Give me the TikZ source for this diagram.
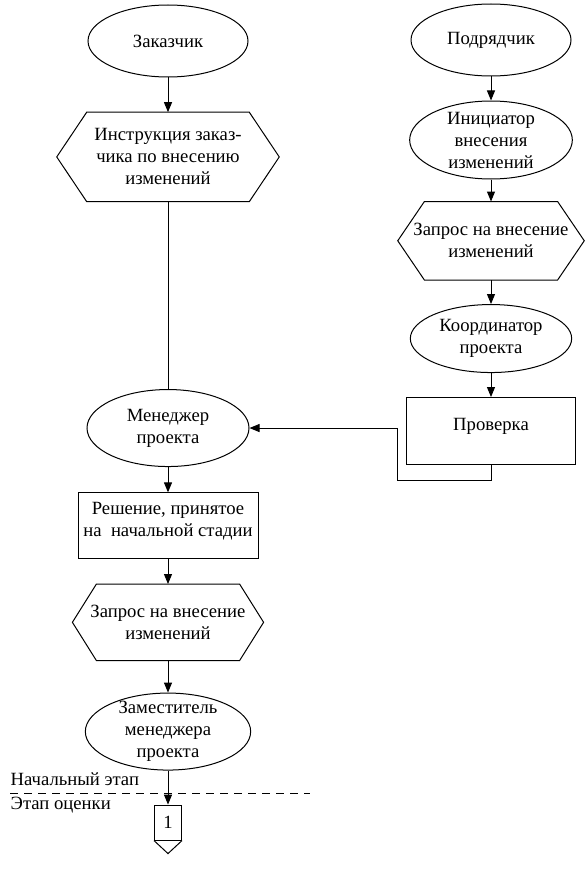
\documentclass[tikz,border=0pt]{standalone}
\usepackage{fontspec}
\setmainfont{Liberation Serif}
\usetikzlibrary{positioning,arrows.meta,shapes.geometric}

% hexagon outline round a plain node: #1 node name, #2 depth of the side points
\newcommand\hexframe[2]{%
  \draw[line width=0.75pt] (#1.west) -- ([xshift=#2]#1.north west) -- ([xshift=-#2]#1.north east)
    -- (#1.east) -- ([xshift=-#2]#1.south east) -- ([xshift=#2]#1.south west) -- cycle;}

\begin{document}
\begin{tikzpicture}[x=0.75pt,y=-0.75pt,node distance=18pt,
  font=\fontsize{14}{16.5}\selectfont,
  ell/.style={ellipse, draw, line width=0.75pt, inner sep=-3pt, align=center},
  hexa/.style={rectangle, align=center, inner sep=0pt},
  box/.style={rectangle, draw, line width=0.75pt, align=center, inner sep=2pt},
  arr/.style={-{Triangle[length=7.5pt,width=6pt]}, line width=0.75pt}]
  \useasboundingbox (0,0) rectangle (588,874);
  % left column
  \node[ell, minimum width=120pt, minimum height=54pt] (zak) at (168,41) {Заказчик};
  \node[hexa, minimum width=166.5pt, minimum height=66.75pt, below=26pt of zak] (instr)
    {Инструкция заказ-\\чика по внесению\\изменений};
  \node[ell, minimum width=121.5pt, minimum height=57.75pt, below=140.5pt of instr] (man)
    {Менеджер\\проекта};
  \node[box, minimum width=135pt, minimum height=49.5pt, text depth=10pt, below=19pt of man] (resh)
    {Решение, принятое\\на~ начальной стадии};
  \node[hexa, minimum width=143pt, minimum height=57pt, below=18.5pt of resh] (zapr2)
    {Запрос на внесение\\изменений};
  \node[ell, minimum width=124pt, minimum height=57.75pt, below=24pt of zapr2] (zam)
    {Заместитель\\менеджера\\проекта};
  \node[box, minimum width=20.25pt, minimum height=26.25pt, inner sep=1pt, below=25.5pt of zam] (c1) {1};
  % right column
  \node[ell, minimum width=120pt, minimum height=54pt] (podr) at (491,40) {Подрядчик};
  \node[ell, minimum width=122pt, minimum height=58.5pt, below=of podr] (init)
    {Инициатор\\внесения\\изменений};
  \node[hexa, minimum width=139.5pt, minimum height=58.5pt, below=16.5pt of init] (zapr1)
    {Запрос на внесение\\изменений};
  \node[ell, minimum width=121pt, minimum height=51pt, below=of zapr1] (koord)
    {Координатор\\проекта};
  \node[box, minimum width=127pt, minimum height=50pt, text depth=10pt, below=of koord] (prov) {Проверка};
  \hexframe{instr}{22.5pt}
  \hexframe{zapr2}{18pt}
  \hexframe{zapr1}{20pt}
  % stages
  \node[anchor=west] (nach) at (6,779) {Начальный этап};
  \node[anchor=west] (ocen) at (6,805) {Этап оценки};
  \draw[line width=0.6pt, dash pattern=on 6pt off 4.5pt] (10,793) -- (310,793);
  % connectors
  \draw[arr] (zak) -- (instr);
  \draw[line width=0.75pt] (instr) -- (man);
  \draw[arr] (man) -- (resh);
  \draw[arr] (resh) -- (zapr2);
  \draw[arr] (zapr2) -- (zam);
  \draw[arr] (zam) -- (c1);
  \draw[line width=0.75pt] (c1.south west) -- ([yshift=-9.75pt]c1.south) -- (c1.south east);
  \draw[line width=1.3pt] (c1.south west) -- (c1.south east);
  \draw[arr] (podr) -- (init);
  \draw[arr] (init) -- (zapr1);
  \draw[arr] (zapr1) -- (koord);
  \draw[arr] (koord) -- (prov);
  \coordinate (turn) at ([xshift=-6pt]prov.west |- man.east);
  \draw[arr] (prov.south) -- ++(0,16) -| (turn) -- (man.east);
\end{tikzpicture}
\end{document}
